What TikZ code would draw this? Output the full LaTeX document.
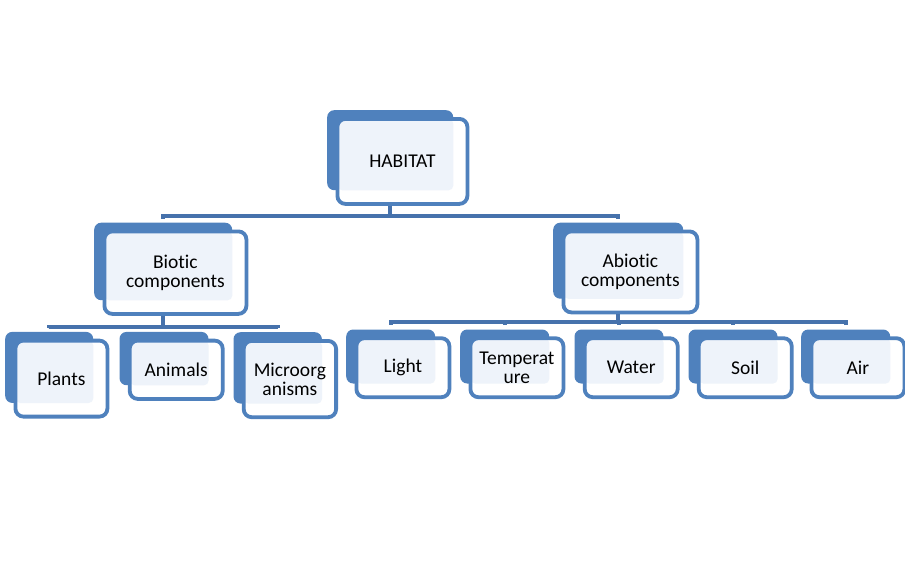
\documentclass[tikz,border=0pt]{standalone}
\usepackage{fontspec}
\setmainfont{Carlito}[Ligatures=NoCommon]
\usetikzlibrary{positioning}
\definecolor{HabBlue}{HTML}{4F81BD}
\definecolor{HabLine}{HTML}{4672AC}
\definecolor{HabPale}{HTML}{EEF3FA}
\tikzset{
    % blue plate behind each box
    back box/.style={
        rectangle,
        rounded corners=7pt,
        fill=HabBlue,
        inner sep=0pt,
        anchor=north west
    },
    % outlined box in front, holds the text
    front box/.style={
        rectangle,
        rounded corners=8pt,
        draw=HabBlue,
        fill=white,
        line width=3.8pt,
        inner sep=0pt,
        align=center,
        anchor=north west,
        font=\fontsize{19.5}{19}\selectfont
    },
    connector/.style={
        draw=HabLine,
        line width=4pt
    }
}
% plate at (x,y) of size w x h, front box shifted from it
\newcommand{\habbox}[6]{%
    \node[back box, minimum width=#4, minimum height=#5] (bk-#1) at (#2,#3) {};
    \node[front box, minimum width=#4+4, minimum height=#5+5,
        path picture={\fill[HabPale, rounded corners=5pt]
            (path picture bounding box.north west) rectangle (bk-#1.south east);}]
        (#1) at ([shift={(8.5,7)}]bk-#1.north west) {#6};
}

\begin{document}
\begin{tikzpicture}[x=1pt, y=-1pt]
        \useasboundingbox (0,0) rectangle (905,576);

        % Top
        \habbox{habitat}{327}{110}{126}{80}{HABITAT}

        % Second level
        \habbox{biotic}{94}{222.5}{138}{77.5}{Biotic\\components}
        \habbox{abiotic}{553}{222.5}{130}{76}{Abiotic\\components}

        % Biotic components
        \habbox{plants}{5}{331.7}{88}{71}{Plants}
        \habbox{animals}{119.3}{331.7}{89}{53.3}{Animals}
        \habbox{microbes}{233.3}{332}{88.4}{71.3}{Microorg\\anisms}

        % Abiotic components
        \habbox{light}{346}{329.3}{89}{54}{Light}
        \habbox{temperature}{460}{329.3}{89}{54}{Temperat\\ure}
        \habbox{water}{574.3}{329.3}{89}{54}{Water}
        \habbox{soil}{688.3}{329.3}{89}{54}{Soil}
        \habbox{air}{801}{329.3}{89}{54}{Air}

        % Connectors
        \foreach \kid in {biotic,abiotic}
            \draw[connector] (bk-habitat.south |- habitat.south) -- ++(0,10) -| ([yshift=4pt]bk-\kid.north);
        \foreach \kid in {plants,animals,microbes}
            \draw[connector] (bk-biotic.south |- biotic.south) -- ++(0,11) -| ([yshift=4pt]bk-\kid.north);
        \foreach \kid in {light,temperature,water,soil,air}
            \draw[connector] (bk-abiotic.south |- abiotic.south) -- ++(0,7.5) -| ([yshift=4pt]bk-\kid.north);
\end{tikzpicture}
\end{document}
